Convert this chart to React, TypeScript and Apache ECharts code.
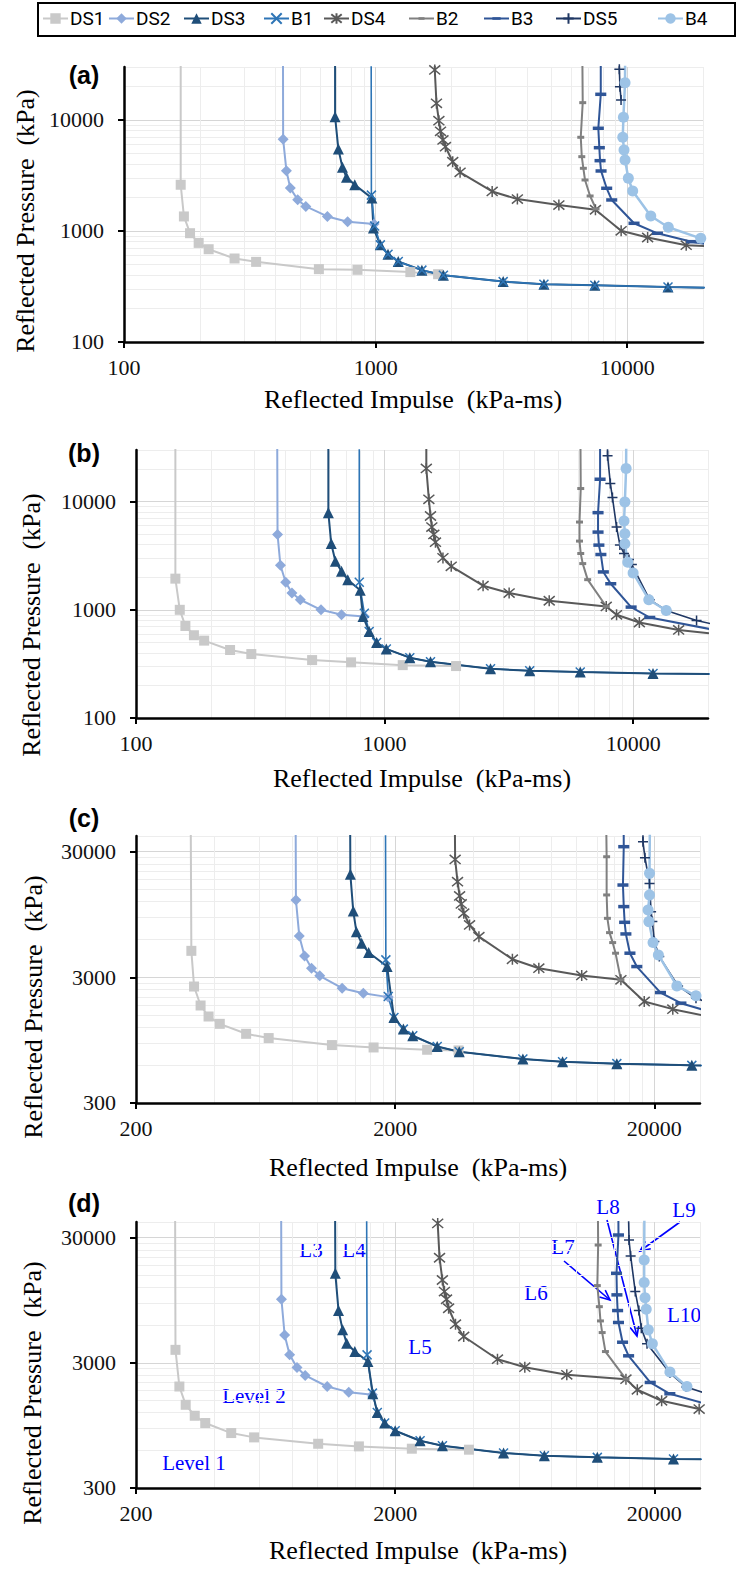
import React, { useEffect, useRef } from 'react';
import * as echarts from 'echarts';

// Off-scale pressure used (as in the source workbook) to run each curve straight up past the axis top
const TOP = 1e6;

const SERIES_NAMES = ['DS1', 'DS2', 'DS3', 'B1', 'DS4', 'B2', 'B3', 'DS5', 'B4'];

const X_TICKS_AB = [100, 1000, 10000];
const Y_TICKS_AB = [100, 1000, 10000];
const X_TICKS_CD = [200, 2000, 20000];
const Y_TICKS_CD = [300, 3000, 30000];
const X_RANGE_AB = [100, 20000];
const Y_RANGE_AB = [100, 30000];
const X_RANGE_CD = [200, 30000];
const Y_RANGE_CD = [300, 40000];

// ---- panel (a) : [impulse kPa-ms, pressure kPa]
const A_DS1 = [[168, TOP], [168, 2609], [173, 1352], [183, 955], [198, 781], [217, 685], [275, 565], [335, 527], [595, 453], [847, 447], [1374, 426], [1771, 408]];
const A_DS2 = [[427, TOP], [429, 6699], [442, 3491], [458, 2433], [490, 1909], [528, 1663], [643, 1352], [774, 1210], [986, 1153]];
const A_DS3 = [[690, TOP], [690, 10715], [711, 5468], [738, 3741], [766, 3041], [826, 2612], [966, 1977], [980, 1062], [1044, 750], [1120, 618], [1230, 531], [1527, 444], [1859, 400], [3213, 350], [4665, 331], [7431, 324], [14520, 313], [25000, 306]];
const A_B1 = [[958, TOP], [962, 2103], [991, 1107], [1044, 750], [1120, 618], [1230, 531], [1527, 444], [1859, 400], [3213, 350], [4665, 331], [7431, 324], [14520, 313], [25000, 306]];
const A_DS4 = [[1718, TOP], [1718, 28250], [1745, 14125], [1784, 9855], [1811, 7906], [1852, 6607], [1894, 5745], [2025, 4206], [2166, 3373], [2905, 2271], [3659, 1937], [5349, 1711], [7475, 1553], [9457, 1004], [12050, 874], [17150, 745], [21000, 728]];
const A_B2 = [[6550, TOP], [6654, 14320], [6535, 6983], [6597, 4670], [6693, 3670], [6795, 2880], [7119, 2067], [7516, 1579]];
const A_B3 = [[7848, TOP], [7848, 17030], [7674, 8418], [7745, 5627], [7798, 4299], [7869, 3472], [8285, 2425], [8676, 1903], [10640, 1173], [13180, 953], [18030, 801], [21000, 755]];
const A_DS5 = [[9302, TOP], [9302, 28630], [9354, 19950], [9448, 15140]];
const A_B4 = [[9850, TOP], [9800, 21680], [9655, 10570], [9598, 6983], [9710, 5370], [9800, 4362], [10100, 2985], [10510, 2293], [12400, 1365], [14560, 1080], [19590, 859]];

// ---- panel (b)
const B_DS1 = [[144, TOP], [144, 1941], [150, 1000], [158, 709], [171, 582], [188, 519], [239, 425], [291, 390], [511, 343], [733, 327], [1183, 308], [1939, 302]];
const B_DS2 = [[368, TOP], [371, 4978], [381, 2582], [400, 1795], [424, 1429], [458, 1239], [555, 1000], [671, 899], [829, 868]];
const B_DS3 = [[594, TOP], [594, 7907], [610, 4102], [634, 2812], [671, 2270], [711, 1900], [798, 1514], [819, 867], [867, 630], [929, 498], [1016, 435], [1263, 361], [1530, 331], [2668, 285], [3836, 273], [6124, 266], [12020, 258], [25000, 254]];
const B_B1 = [[791, TOP], [791, 1795], [829, 931], [867, 630], [929, 498], [1016, 435], [1263, 361], [1530, 331], [2668, 285], [3836, 273], [6124, 266], [12020, 258], [25000, 254]];
const B_DS4 = [[1472, TOP], [1472, 20270], [1507, 10510], [1530, 7360], [1549, 5820], [1578, 4978], [1602, 4220], [1717, 3020], [1854, 2525], [2490, 1671], [3170, 1429], [4595, 1213], [7793, 1074], [8575, 899], [10590, 763], [15240, 652], [21000, 600]];
const B_B2 = [[6083, TOP], [6154, 13210], [6083, 6475], [6083, 4316], [6154, 3314], [6268, 2674], [6561, 1900], [7793, 1074]];
const B_B3 = [[7361, TOP], [7361, 16100], [7223, 7907], [7223, 5227], [7279, 3962], [7416, 3244], [7586, 2239], [8125, 1742], [9814, 1059], [11660, 849], [21000, 655]];
const B_DS5 = [[7797, TOP], [7889, 26550], [8095, 14690], [8255, 10890], [8576, 5820], [8844, 3962], [9188, 3314], [9620, 2913], [9880, 2617], [11660, 1239], [13590, 986], [17990, 796], [21000, 735]];
const B_B4 = [[9441, TOP], [9368, 20270], [9260, 9930], [9188, 6607], [9260, 5047], [9260, 4074], [9512, 2754], [9995, 2193], [11560, 1239], [13590, 986]];

// ---- panel (c)
const C_DS1 = [[323, TOP], [327, 4876], [335, 2536], [355, 1791], [381, 1464], [421, 1280], [532, 1066], [650, 986], [1140, 867], [1651, 830], [2656, 796], [3510, 786]];
const C_DS2 = [[822, TOP], [828, 12390], [853, 6412], [894, 4446], [951, 3548], [1023, 3085], [1248, 2461], [1507, 2245], [1880, 2088]];
const C_DS3 = [[1333, TOP], [1343, 19820], [1378, 10110], [1417, 6934], [1485, 5606], [1580, 4724], [1862, 3655], [1978, 1439], [2151, 1162], [2338, 1028], [2905, 846], [3533, 767], [6219, 671], [8850, 639], [14330, 617], [27900, 598], [40000, 594]];
const C_B1 = [[1828, TOP], [1841, 4132], [1881, 2112], [1978, 1439], [2151, 1162], [2338, 1028], [2905, 846], [3533, 767], [6219, 671], [8850, 639], [14330, 617], [27900, 598], [40000, 594]];
const C_DS4 = [[3357, TOP], [3407, 26060], [3480, 17330], [3545, 13340], [3597, 11520], [3679, 9706], [3873, 7839], [4209, 6326], [5667, 4182], [7166, 3548], [10490, 3106], [14860, 2867], [18280, 1928], [23560, 1675], [32000, 1470]];
const C_B2 = [[12800, TOP], [13090, 27350], [13090, 13580], [13180, 8847], [13430, 6808], [13810, 5672], [14170, 4670], [14860, 2867]];
const C_B3 = [[15130, TOP], [15240, 32890], [15130, 16290], [15240, 10970], [15360, 8226], [15530, 6646], [16100, 4670], [17110, 3655], [21120, 2270], [25320, 1869], [32000, 1620]];
const C_DS5 = [[17960, TOP], [18080, 35970], [18400, 26850], [19160, 16790], [19430, 9990], [19650, 8330], [20000, 5778], [20890, 4395], [24700, 2566], [28950, 2046], [32000, 1900]];
const C_B4 = [[19430, TOP], [19160, 20170], [19160, 13580], [18920, 10300], [19050, 8330], [19770, 5672], [20730, 4525], [24430, 2566], [28950, 2138]];

// ---- panel (d)
const D_DS1 = [[282, TOP], [284, 3808], [294, 1940], [311, 1386], [337, 1133], [370, 991], [466, 824], [571, 761], [1009, 677], [1449, 645], [2319, 618], [3852, 607]];
const D_DS2 = [[723, TOP], [728, 9661], [749, 5010], [783, 3474], [836, 2754], [899, 2377], [1093, 1941], [1324, 1749], [1634, 1667]];
const D_DS3 = [[1167, TOP], [1175, 15570], [1209, 7846], [1254, 5500], [1300, 4303], [1397, 3691], [1570, 3073], [1640, 1700], [1706, 1205], [1821, 991], [2000, 860], [2495, 716], [3043, 653], [5238, 571], [7528, 543], [12050, 527], [23710, 511], [40000, 507]];
const D_B1 = [[1545, TOP], [1558, 3474], [1634, 1718], [1706, 1205], [1821, 991], [2000, 860], [2495, 716], [3043, 653], [5238, 571], [7528, 543], [12050, 527], [23710, 511], [40000, 507]];
const D_DS4 = [[2918, TOP], [2918, 39000], [2966, 20730], [3042, 13770], [3098, 11120], [3156, 9661], [3215, 8186], [3418, 6106], [3677, 4868], [4963, 3206], [6327, 2768], [9187, 2405], [15540, 2222], [17190, 1828], [21340, 1493], [29780, 1281], [35000, 1200]];
const D_B2 = [[11970, TOP], [12140, 26190], [12050, 12420], [12270, 8427], [12390, 6483], [12580, 5234], [12950, 3691], [15540, 2222]];
const D_B3 = [[14430, TOP], [14540, 31490], [14290, 15570], [14340, 10470], [14430, 7846], [14540, 6299], [15080, 4382], [15910, 3412], [19280, 2090], [22950, 1698], [32000, 1400]];
const D_DS5 = [[15410, TOP], [15970, 28730], [16200, 21430], [16880, 11120], [17430, 7846], [17810, 5672], [18740, 4252], [22970, 2485], [26560, 1919], [32000, 1700]];
const D_B4 = [[18440, TOP], [18270, 19910], [18270, 13120], [18410, 9950], [18610, 8040], [18960, 5500], [19650, 4252], [22970, 2532], [26720, 1940]];

const PANELS = [
  { DS1: A_DS1, DS2: A_DS2, DS3: A_DS3, B1: A_B1, DS4: A_DS4, B2: A_B2, B3: A_B3, DS5: A_DS5, B4: A_B4 },
  { DS1: B_DS1, DS2: B_DS2, DS3: B_DS3, B1: B_B1, DS4: B_DS4, B2: B_B2, B3: B_B3, DS5: B_DS5, B4: B_B4 },
  { DS1: C_DS1, DS2: C_DS2, DS3: C_DS3, B1: C_B1, DS4: C_DS4, B2: C_B2, B3: C_B3, DS5: C_DS5, B4: C_B4 },
  { DS1: D_DS1, DS2: D_DS2, DS3: D_DS3, B1: D_B1, DS4: D_DS4, B2: D_B2, B3: D_B3, DS5: D_DS5, B4: D_B4 },
];
const PANEL_AXES = [
  { xr: X_RANGE_AB, yr: Y_RANGE_AB, xt: X_TICKS_AB, yt: Y_TICKS_AB },
  { xr: X_RANGE_AB, yr: Y_RANGE_AB, xt: X_TICKS_AB, yt: Y_TICKS_AB },
  { xr: X_RANGE_CD, yr: Y_RANGE_CD, xt: X_TICKS_CD, yt: Y_TICKS_CD },
  { xr: X_RANGE_CD, yr: Y_RANGE_CD, xt: X_TICKS_CD, yt: Y_TICKS_CD },
];
const PANEL_LABELS = ['(a)', '(b)', '(c)', '(d)'];
const X_TITLE = 'Reflected Impulse  (kPa-ms)';
const Y_TITLE = 'Reflected Pressure  (kPa)';
const NOTES = ['L3', 'L4', 'L5', 'L6', 'L7', 'L8', 'L9', 'L10', 'Level 2', 'Level 1'];

// ---- layout (pixels)
const GRIDS = [
  { left: 124, top: 67, width: 579, height: 275 },
  { left: 136, top: 450, width: 572, height: 268 },
  { left: 136, top: 836, width: 564, height: 267 },
  { left: 136, top: 1222, width: 564, height: 266 },
];
const LABEL_POS = [[84, 75], [84, 453], [84, 818], [84, 1203]];
const XTITLE_POS = [[413, 399], [422, 778], [418, 1167], [418, 1550]];
const YTITLE_POS = [[25, 221], [31, 625], [33, 1007], [32, 1393]];
const NOTE_POS = [[311, 1250], [354, 1250], [420, 1347], [536, 1293], [563, 1247], [608, 1207], [684, 1210], [684, 1315], [254, 1396], [194, 1463]];
const ARROW_POS = [[564, 1261, 610, 1300], [607, 1220, 637, 1336], [680, 1222, 640, 1251]];
const LEGEND_LEFT = [42, 108, 183, 263, 323, 408, 483, 555, 657];

const SERIF = 'Liberation Serif, Times New Roman, serif';
const LEGEND_FONT = 'Roboto, Liberation Sans, sans-serif';

const STYLE: Record<string, any> = {
  DS1: { color: '#c9c9c9', symbol: 'rect', size: 10, width: 2, border: 0 },
  DS2: { color: '#8eaadb', symbol: 'diamond', size: 11, width: 2, border: 0 },
  DS3: { color: '#1f4e79', symbol: 'triangle', size: 11, width: 2, border: 0 },
  B1: { color: '#2e75b6', symbol: 'path://M0,0L10,10M10,0L0,10', size: 9, width: 1.6, border: 1.5 },
  DS4: { color: '#595959', symbol: 'path://M0,0L10,10M10,0L0,10M5,-1L5,11', size: 11, width: 2, border: 1.5 },
  B2: { color: '#808080', symbol: 'path://M0,0L0,0M10,10L10,10M2.1,3.75H7.9V6.25H2.1Z', size: 12, width: 2, border: 0 },
  B3: { color: '#2f5597', symbol: 'path://M0,0L0,0M10,10L10,10M1.05,3.75H8.95V6.25H1.05Z', size: 14, width: 2, border: 0 },
  DS5: { color: '#203864', symbol: 'path://M5,0L5,10M0,5L10,5', size: 10, width: 1.6, border: 1.5 },
  B4: { color: '#9dc3e6', symbol: 'circle', size: 11, width: 2.5, border: 0 },
};

function minorValues(majors: number[], max: number) {
  const out: number[] = [];
  majors.forEach((t) => {
    for (let k = 2; k <= 9; k++) {
      const v = t * k;
      if (v <= max * 1.00001) out.push(v);
    }
  });
  if (out.indexOf(max) < 0) out.push(max);
  return out;
}

function axisPair(kind: 'x' | 'y', gridIndex: number, range: number[], majors: number[]) {
  const minors = minorValues(majors, range[1]);
  const base = {
    type: 'log', logBase: 10, gridIndex,
    min: range[0] * 0.9999, max: range[1] * 1.0001,
    position: kind === 'x' ? 'bottom' : 'left',
  };
  const minor = {
    ...base,
    axisLine: { show: false },
    axisTick: { show: false, customValues: minors },
    axisLabel: { show: false, customValues: minors },
    splitLine: { show: true, customValues: minors, lineStyle: { color: '#ededed', width: 1 } },
    minorTick: { show: false }, minorSplitLine: { show: false },
  };
  const major = {
    ...base,
    axisLine: { show: true, onZero: false, lineStyle: { color: '#000', width: 2.5 } },
    axisTick: { show: true, inside: false, length: 6, customValues: majors, lineStyle: { color: '#000', width: 2 } },
    axisLabel: {
      show: true, customValues: majors, formatter: (v: number) => String(Math.round(v)),
      fontFamily: SERIF, fontSize: 22, color: '#111', margin: kind === 'x' ? 14 : 20,
    },
    splitLine: { show: true, customValues: majors, lineStyle: { color: '#d6d6d6', width: 1 } },
    minorTick: { show: false }, minorSplitLine: { show: false },
  };
  return [minor, major];
}

function arrow(x1: number, y1: number, x2: number, y2: number) {
  const ang = Math.atan2(y2 - y1, x2 - x1);
  const len = 11, spread = 0.42;
  const p1 = [x2 - len * Math.cos(ang - spread), y2 - len * Math.sin(ang - spread)];
  const p2 = [x2 - len * Math.cos(ang + spread), y2 - len * Math.sin(ang + spread)];
  return [
    { type: 'line', shape: { x1, y1, x2, y2 }, style: { stroke: '#0000ff', lineWidth: 1.6 } },
    { type: 'polyline', shape: { points: [p1, [x2, y2], p2] }, style: { stroke: '#0000ff', lineWidth: 1.6, fill: null } },
  ];
}

function buildOption() {
  const xAxis: any[] = [];
  const yAxis: any[] = [];
  const series: any[] = [];
  GRIDS.forEach((_, gi) => {
    const ax = PANEL_AXES[gi];
    xAxis.push(...axisPair('x', gi, ax.xr, ax.xt));
    yAxis.push(...axisPair('y', gi, ax.yr, ax.yt));
    const order = gi === 0 ? SERIES_NAMES : ['DS1', 'DS2', 'B1', 'DS3', 'DS4', 'B2', 'B3', 'DS5', 'B4'];
    order.forEach((name) => {
      const st = STYLE[name];
      const data = (PANELS[gi] as any)[name].map((p: number[]) => (p[1] >= TOP ? { value: p, symbol: 'none' } : p));
      series.push({
        type: 'line', name, xAxisIndex: gi * 2 + 1, yAxisIndex: gi * 2 + 1,
        data, symbol: st.symbol, symbolSize: st.size, showSymbol: true,
        lineStyle: { color: st.color, width: st.width },
        itemStyle: { color: st.color, borderColor: st.color, borderWidth: st.border },
        clip: true, silent: true, emphasis: { disabled: true }, smooth: false,
      });
    });
  });

  const graphic: any[] = [
    { type: 'rect', shape: { x: 38, y: 3, width: 697, height: 33 }, style: { fill: 'none', stroke: '#000', lineWidth: 2 } },
  ];
  PANEL_LABELS.forEach((t, i) => {
    graphic.push({ type: 'text', x: LABEL_POS[i][0], y: LABEL_POS[i][1], style: { text: t, fill: '#000', fontFamily: 'Liberation Sans, Arial, sans-serif', fontWeight: 'bold', fontSize: 25, align: 'center', verticalAlign: 'middle' } });
    graphic.push({ type: 'text', x: XTITLE_POS[i][0], y: XTITLE_POS[i][1], style: { text: X_TITLE, fill: '#000', fontFamily: SERIF, fontSize: 26, align: 'center', verticalAlign: 'middle' } });
    graphic.push({ type: 'text', x: YTITLE_POS[i][0], y: YTITLE_POS[i][1], rotation: Math.PI / 2, style: { text: Y_TITLE, fill: '#000', fontFamily: SERIF, fontSize: 26, align: 'center', verticalAlign: 'middle' } });
  });
  NOTES.forEach((t, i) => {
    graphic.push({ type: 'text', x: NOTE_POS[i][0], y: NOTE_POS[i][1], style: { text: t, fill: '#0000ff', fontFamily: SERIF, fontSize: 21, align: 'center', verticalAlign: 'middle' } });
  });
  ARROW_POS.forEach((a) => graphic.push(...arrow(a[0], a[1], a[2], a[3])));

  const legend = SERIES_NAMES.map((n, i) => ({
    data: [n], left: LEGEND_LEFT[i], top: 9, itemWidth: 25, itemHeight: 13, itemGap: 0, padding: 0,
    selectedMode: false, textStyle: { fontFamily: LEGEND_FONT, fontSize: 19, color: '#000', padding: [0, 0, 0, -3] },
  }));

  return {
    animation: false,
    backgroundColor: '#fff',
    grid: GRIDS.map((g) => ({ ...g, containLabel: false })),
    xAxis, yAxis, series, legend, graphic,
  };
}

export default function App() {
  const ref = useRef<HTMLDivElement>(null);
  useEffect(() => {
    if (!ref.current) return;
    const chart = echarts.init(ref.current, null, { renderer: 'svg' });
    chart.setOption(buildOption() as any);
    return () => chart.dispose();
  }, []);
  return <div ref={ref} style={{ position: 'absolute', left: 0, top: 0, width: 739, height: 1570, background: '#fff' }} />;
}
